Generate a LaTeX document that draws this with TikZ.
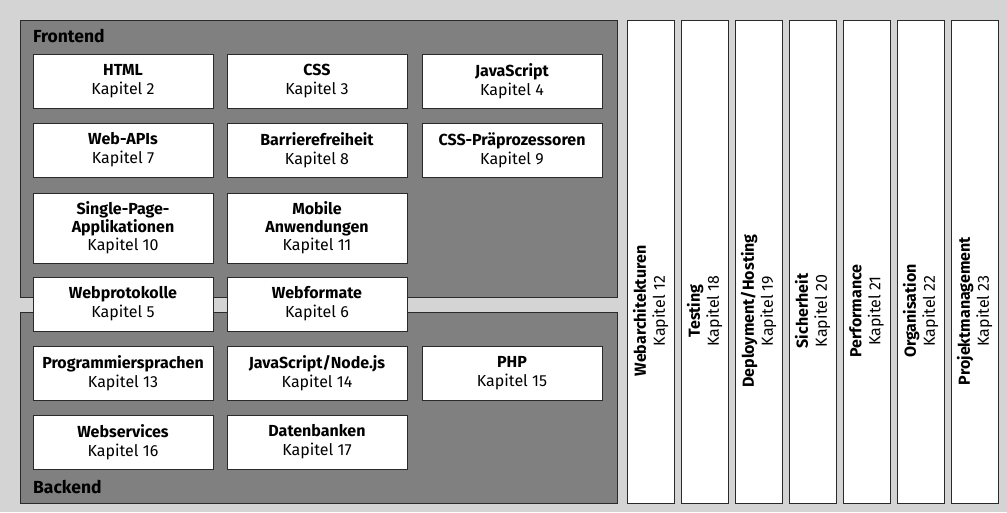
\documentclass[tikz,border=0pt]{standalone}
\usepackage{fontspec}
\setmainfont{Fira Sans}
\definecolor{bgc}{HTML}{D4D4D4}
\definecolor{panelc}{HTML}{808080}
\definecolor{linec}{HTML}{2A2A2A}
\begin{document}
\begin{tikzpicture}[x=1pt,y=-1pt,
  panel/.style={draw=linec, fill=panelc, line width=0.9pt},
  box/.style={draw=linec, fill=white, line width=0.8pt, minimum width=180pt, minimum height=54pt, align=center, inner sep=0pt, font=\fontsize{16}{19}\selectfont},
  tallbox/.style={box, minimum height=70pt, font=\fontsize{16}{18}\selectfont},
  col/.style={draw=linec, fill=white, line width=0.9pt, minimum width=47pt, minimum height=483pt, inner sep=0pt},
  collabel/.style={rotate=90, align=center, inner sep=0pt, font=\fontsize{16}{19}\selectfont},
  heading/.style={anchor=base west, inner sep=0pt, font=\fontsize{17.5}{20}\selectfont\bfseries}]
\fill[bgc] (0,0) rectangle (1007,512);
\useasboundingbox (0,0) rectangle (1007,512);
% panels
\node[panel, anchor=north west, minimum width=597pt, minimum height=277pt, inner sep=0pt] (front) at (20,20) {};
\node[panel, anchor=north west, minimum width=597pt, minimum height=191pt, inner sep=0pt] (back) at (20,312) {};
\node[heading] (fl) at (33,42) {Frontend};
\node[heading] (bl) at (33,493) {Backend};
% frontend boxes
\node[box] (html) at (123,81) {\bfseries HTML\\Kapitel 2};
\node[box] (css) at (317,81) {\bfseries CSS\\Kapitel 3};
\node[box] (js) at (512,81) {\bfseries JavaScript\\Kapitel 4};
\node[box] (webapi) at (123,150) {\bfseries Web-APIs\\Kapitel 7};
\node[box] (barr) at (317,150) {\bfseries Barrierefreiheit\\Kapitel 8};
\node[box] (prep) at (512,150) {\bfseries CSS-Präprozessoren\\Kapitel 9};
\node[tallbox] (spa) at (123,228) {\bfseries Single-Page-\\\bfseries Applikationen\\Kapitel 10};
\node[tallbox] (mob) at (317,228) {\bfseries Mobile\\\bfseries Anwendungen\\Kapitel 11};
% shared boxes
\node[box] (prot) at (123,304) {\bfseries Webprotokolle\\Kapitel 5};
\node[box] (form) at (317,304) {\bfseries Webformate\\Kapitel 6};
% backend boxes
\node[box] (prog) at (123,373) {\bfseries Programmiersprachen\\Kapitel 13};
\node[box] (node) at (317,373) {\bfseries JavaScript/Node.js\\Kapitel 14};
\node[box] (php) at (512,373) {\bfseries PHP\\Kapitel 15};
\node[box] (ws) at (123,442) {\bfseries Webservices\\Kapitel 16};
\node[box] (db) at (317,442) {\bfseries Datenbanken\\Kapitel 17};
% columns
\node[col] (c1) at (650.5,261.5) {};
\node[col] (c2) at (704.5,261.5) {};
\node[col] (c3) at (758.5,261.5) {};
\node[col] (c4) at (812.5,261.5) {};
\node[col] (c5) at (866.5,261.5) {};
\node[col] (c6) at (920.5,261.5) {};
\node[col] (c7) at (974.5,261.5) {};
\node[collabel] (l1) at (650.5,311) {\bfseries Webarchitekturen\\Kapitel 12};
\node[collabel] (l2) at (704.5,311) {\bfseries Testing\\Kapitel 18};
\node[collabel] (l3) at (758.5,311) {\bfseries Deployment/Hosting\\Kapitel 19};
\node[collabel] (l4) at (812.5,311) {\bfseries Sicherheit\\Kapitel 20};
\node[collabel] (l5) at (866.5,311) {\bfseries Performance\\Kapitel 21};
\node[collabel] (l6) at (920.5,311) {\bfseries Organisation\\Kapitel 22};
\node[collabel] (l7) at (974.5,311) {\bfseries Projektmanagement\\Kapitel 23};
\end{tikzpicture}
\end{document}
